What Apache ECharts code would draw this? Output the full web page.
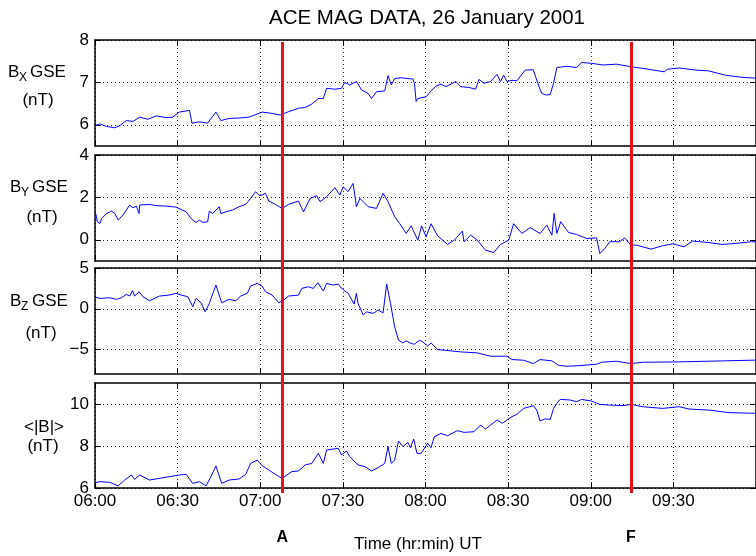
<!DOCTYPE html>
<html>
<head>
<meta charset="utf-8">
<script src="https://cdn.jsdelivr.net/npm/echarts@6/dist/echarts.min.js"></script>
<style>
  html, body { margin: 0; padding: 0; background: #fff; }
  #chart { width: 756px; height: 556px; }
</style>
</head>
<body>
<div id="chart"></div>
<script>
// Samples are [minutes after 06:00 UT, field value in nT]
const bxSamples = [[0,5.98],[1.8,6.02],[4.2,5.96],[7.2,5.93],[9,5.98],[11.4,6.10],[13.8,6.08],[16.2,6.18],[19.2,6.13],[22.2,6.21],[25.8,6.17],[28.2,6.18],[30.6,6.30],[34.3,6.34],[35.2,6.04],[37.9,6.07],[40.9,6.04],[42.7,6.20],[43.9,6.30],[45.7,6.10],[48.7,6.15],[52.3,6.16],[55.9,6.18],[59.5,6.27],[60.7,6.30],[64.3,6.27],[67.3,6.23],[70.3,6.31],[73.9,6.39],[76.3,6.41],[78.7,6.49],[81.1,6.62],[82.9,6.62],[84.1,6.86],[87.1,6.84],[89.5,6.86],[90.7,7.00],[92.5,6.94],[95,7.02],[96.8,6.82],[99.2,6.74],[100.4,6.62],[102.2,6.78],[105.2,6.80],[106.4,7.16],[107.6,6.94],[108.8,7.09],[111.2,7.11],[113.6,7.09],[115.4,7.08],[116,6.98],[116.6,6.55],[117.2,6.62],[120.2,6.66],[122,6.80],[123.8,6.91],[125.6,6.96],[127.4,6.90],[131,7.02],[132.8,6.90],[135.8,6.88],[138.2,6.84],[139.4,7.07],[141.2,6.98],[143.6,7.02],[146,7.19],[147.2,7.02],[148.4,7.17],[149.6,7.02],[151.4,7.05],[153.2,7.04],[156.2,7.29],[159.1,7.30],[161,6.94],[162.2,6.74],[164,6.70],[165.3,6.72],[166.5,6.98],[167.7,7.35],[171.3,7.38],[174.9,7.35],[176.7,7.47],[180.3,7.45],[184.5,7.41],[189.3,7.43],[194.6,7.37],[198.9,7.33],[206.7,7.25],[207.9,7.31],[212.1,7.34],[218.1,7.29],[222.9,7.27],[228.9,7.17],[234.9,7.12],[240,7.10]];

const bySamples = [[0,1.3],[0.4,1.17],[0.8,0.85],[1.8,0.77],[2.4,1.0],[4.2,1.24],[6.0,1.35],[7.2,1.24],[8.4,0.93],[10.2,1.17],[12.6,1.64],[13.8,1.51],[15.0,1.59],[16.0,1.24],[16.2,1.64],[19.8,1.67],[22.2,1.61],[25.8,1.59],[29.4,1.54],[31.3,1.43],[33.1,1.32],[34.9,1.0],[36.7,0.82],[37.9,0.93],[39.1,0.82],[40.9,0.85],[41.5,1.35],[42.7,1.24],[45.1,1.56],[45.7,1.24],[47.5,1.32],[49.9,1.40],[52.3,1.56],[54.7,1.67],[56.5,1.95],[58.3,2.27],[59.5,2.11],[60.7,2.11],[61.9,2.19],[63.1,1.83],[65.5,1.67],[67.9,1.48],[70.3,1.67],[73.9,1.83],[75.1,1.48],[75.7,1.32],[78.1,1.95],[80.5,2.08],[81.7,1.80],[84.1,2.03],[87.1,2.46],[88.9,2.11],[90.1,2.50],[91.9,2.27],[93.7,2.66],[94.6,1.87],[94.9,1.56],[96.2,1.95],[99.2,1.56],[102.2,1.48],[104.6,2.19],[106.4,1.80],[108.8,1.09],[110.6,0.77],[113.0,0.30],[114.8,0.66],[117.2,-0.02],[118.6,0.66],[120.2,0.14],[122.0,0.76],[124.4,0.19],[128.0,-0.22],[130.4,-0.02],[133.4,0.41],[134.0,-0.09],[136.4,0.22],[138.8,-0.02],[141.8,-0.49],[144.8,-0.60],[147.2,-0.22],[150.2,-0.02],[152.0,0.76],[155.0,0.30],[158.0,0.57],[161.6,0.30],[164.0,0.69],[165.9,0.22],[166.7,1.24],[167.7,0.30],[169.1,0.85],[171.9,0.35],[174.9,0.25],[178.5,0.06],[182.1,0.09],[183.3,-0.65],[185.1,-0.41],[186.9,-0.09],[190.5,-0.09],[192.3,0.09],[194.6,-0.25],[196.5,-0.25],[201.9,-0.44],[206.1,-0.28],[209.7,-0.19],[213.9,-0.33],[217.0,-0.06],[222.9,-0.13],[227.7,-0.22],[232.6,-0.17],[238.3,-0.09],[240,-0.1]];

const bzSamples = [[0,1.45],[0.4,1.48],[1.8,1.27],[5.4,1.35],[7.8,1.15],[9.6,1.35],[11.4,1.76],[12.6,1.56],[13.6,2.21],[14.4,1.56],[16.0,2.09],[17.4,1.48],[19.8,0.98],[23.4,1.56],[27.0,1.68],[29.4,1.89],[31.3,1.68],[33.7,1.48],[35.5,0.25],[36.7,1.27],[38.5,0.74],[40.0,-0.37],[41.5,0.66],[43.9,2.91],[46.0,0.74],[48.7,1.15],[51.1,0.98],[52.9,1.56],[55.3,1.89],[56.5,2.79],[58.9,3.11],[60.7,2.79],[61.9,2.09],[64.3,1.68],[66.7,0.74],[68.5,1.07],[70.3,1.56],[73.9,1.68],[75.1,2.50],[77.5,2.70],[79.3,2.50],[80.9,3.20],[82.9,2.17],[84.1,3.11],[86.5,2.91],[88.3,3.03],[89.5,2.50],[91.9,1.89],[94.1,0.57],[94.9,1.89],[95.5,0.66],[97.4,-0.78],[98.6,-0.37],[101.0,-0.57],[102.8,-0.16],[104.6,-0.49],[105.2,-0.37],[105.9,3.03],[107.3,0.66],[108.8,-2.21],[110.2,-3.85],[111.8,-4.18],[113.0,-3.93],[114.8,-4.26],[116.0,-4.34],[117.8,-3.85],[119.0,-4.06],[120.8,-4.59],[122.0,-4.18],[124.4,-5.0],[126.8,-5.08],[132.8,-5.29],[138.8,-5.41],[143.6,-5.82],[149.6,-5.82],[151.4,-6.23],[155.6,-6.31],[159.2,-6.72],[161.6,-6.23],[165.9,-6.39],[168.3,-6.93],[171.3,-7.05],[176.1,-6.97],[182.1,-6.80],[183.9,-6.56],[189.3,-6.43],[194.6,-6.72],[198.9,-6.56],[211.0,-6.52],[222.9,-6.43],[238.3,-6.31],[240,-6.3]];

const bmagSamples = [[0,6.25],[0.4,6.22],[1.8,6.30],[5.4,6.27],[8.4,6.10],[10.8,6.38],[13.2,6.62],[14.4,6.41],[16.2,6.62],[19.8,6.38],[23.4,6.46],[27.0,6.54],[30.6,6.62],[33.1,6.65],[35.5,6.22],[37.9,6.30],[40.3,6.10],[42.1,6.54],[43.9,7.05],[46.0,6.22],[48.7,6.38],[52.3,6.43],[54.7,6.65],[56.5,7.17],[58.9,7.33],[60.7,7.06],[63.1,6.86],[65.5,6.65],[67.9,6.46],[71.5,6.78],[73.9,6.81],[76.3,7.10],[78.7,7.17],[81.1,7.65],[82.9,7.17],[84.1,7.81],[88.3,7.89],[89.5,7.57],[91.3,7.76],[92.5,7.49],[95.5,7.10],[98.0,7.02],[100.4,6.81],[102.8,6.97],[105.2,7.17],[106.4,7.97],[107.6,7.17],[108.8,7.33],[110.2,8.24],[111.8,7.97],[113.6,8.17],[114.5,7.92],[115.7,8.33],[116.9,7.65],[118.4,7.65],[120.8,8.13],[122.0,7.92],[123.2,8.44],[125.6,8.60],[128.0,8.49],[131.6,8.73],[134.0,8.65],[137.6,8.68],[140.0,9.0],[141.8,8.81],[146.0,9.24],[147.8,9.08],[149.6,9.24],[151.4,9.40],[153.2,9.51],[155.6,9.79],[159.2,9.92],[160.4,9.71],[161.6,9.19],[163.4,9.29],[165.3,9.27],[166.5,9.79],[167.7,10.03],[168.9,10.22],[172.5,10.19],[174.9,10.11],[176.7,10.22],[180.3,10.14],[183.3,9.98],[186.9,9.95],[191.7,9.92],[194.6,9.98],[198.9,9.87],[206.1,9.79],[212.1,9.87],[215.7,9.76],[222.9,9.71],[230.2,9.59],[238.3,9.56],[240,9.56]];

// Time axis ticks (every 30 minutes from 06:00)
const timeTickLabels = ['06:00', '06:30', '07:00', '07:30', '08:00', '08:30', '09:00', '09:30', '10:00'];

// Y-axis ticks per panel
const bxTicks = [6, 7, 8];
const byTicks = [0, 2, 4];
const bzTicks = [-5, 0, 5];
const bmagTicks = [6, 8, 10];

// Marked event times (minutes after 06:00) and their names
const eventTimes = [68, 194.6];
const eventNames = ['A', 'F'];

const FONT = '"Liberation Sans", Arial, Helvetica, sans-serif';

const panels = [
  { samples: bxSamples,   min: 5.5, max: 8,  ticks: bxTicks },
  { samples: bySamples,   min: -1,  max: 4,  ticks: byTicks },
  { samples: bzSamples,   min: -8,  max: 5,  ticks: bzTicks },
  { samples: bmagSamples, min: 6,   max: 11, ticks: bmagTicks }
];
const panelBoxes = [
  { top: 40,  height: 106 },
  { top: 155, height: 106 },
  { top: 268, height: 106 },
  { top: 383, height: 105 }
];
const PLOT_LEFT = 95;
const PLOT_WIDTH = 665;

const boxLine = { color: '#000', width: 1.5 };
const tickLine = { color: '#000', width: 1 };
const dotted = { color: '#000', width: 1, type: [1, 3], opacity: 0.85 };

const grid = [], xAxis = [], yAxis = [], series = [];

panels.forEach((p, i) => {
  const last = i === panels.length - 1;
  grid.push({ left: PLOT_LEFT, width: PLOT_WIDTH, top: panelBoxes[i].top, height: panelBoxes[i].height });

  xAxis.push({
    gridIndex: i, type: 'value', min: 0, max: 240, interval: 30, position: 'bottom',
    axisLine: { show: true, onZero: false, lineStyle: boxLine },
    axisTick: { show: true, inside: true, length: 6, lineStyle: tickLine },
    axisLabel: {
      show: last, margin: 5, color: '#000', fontSize: 17, fontFamily: FONT,
      showMaxLabel: false,
      formatter: v => timeTickLabels[Math.round(v / 30)]
    },
    splitLine: { show: true, lineStyle: dotted }
  });
  xAxis.push({
    gridIndex: i, type: 'value', min: 0, max: 240, interval: 30, position: 'top',
    axisLine: { show: true, onZero: false, lineStyle: boxLine },
    axisTick: { show: true, inside: true, length: 6, lineStyle: tickLine },
    axisLabel: { show: false },
    splitLine: { show: false }
  });

  yAxis.push({
    gridIndex: i, type: 'value', min: p.min, max: p.max, position: 'left',
    axisLine: { show: true, onZero: false, lineStyle: boxLine },
    axisTick: { show: true, inside: true, length: 6, lineStyle: tickLine, customValues: p.ticks },
    axisLabel: {
      show: true, margin: 6, color: '#000', fontSize: 17, fontFamily: FONT,
      customValues: p.ticks,
      formatter: v => String(v).replace('-', '\u2212')
    },
    splitLine: { show: true, lineStyle: dotted }
  });
  yAxis.push({
    gridIndex: i, type: 'value', min: p.min, max: p.max, position: 'right',
    axisLine: { show: true, onZero: false, lineStyle: boxLine },
    axisTick: { show: true, inside: true, length: 6, lineStyle: tickLine, customValues: p.ticks },
    axisLabel: { show: false },
    splitLine: { show: false }
  });

  series.push({
    type: 'line', xAxisIndex: 2 * i, yAxisIndex: 2 * i,
    data: p.samples, showSymbol: false, symbol: 'none',
    lineStyle: { color: '#0000ff', width: 1 },
    z: 3, animation: false, silent: true
  });
});

// Full-height overlay used for the event markers
const overlay = panels.length;
grid.push({ left: PLOT_LEFT, width: PLOT_WIDTH, top: 42, height: 451 });
xAxis.push({ gridIndex: overlay, type: 'value', min: 0, max: 240, show: false });
yAxis.push({ gridIndex: overlay, type: 'value', min: 0, max: 1, show: false });
series.push({
  type: 'line', xAxisIndex: 2 * overlay, yAxisIndex: 2 * overlay, data: [],
  z: 10, animation: false, silent: true,
  markLine: {
    silent: true, animation: false, symbol: ['none', 'none'],
    lineStyle: { color: '#e8101a', width: 3, type: 'solid' },
    label: {
      show: true, position: 'start', distance: 37, formatter: '{b}',
      color: '#000', fontWeight: 'bold', fontSize: 16, fontFamily: FONT
    },
    emphasis: { disabled: true },
    data: eventTimes.map((t, k) => ({ xAxis: t, name: eventNames[k] }))
  }
});

// Panel labels with subscripted components
function componentLabel(letter, sub, x, y, unitX, unitY) {
  return [
    { type: 'text', left: x, top: y - 10, style: { text: letter, font: '17px ' + FONT, fill: '#000' } },
    { type: 'text', left: x + 11, top: y - 2, style: { text: sub, font: '12px ' + FONT, fill: '#000' } },
    { type: 'text', left: x + 22, top: y - 10, style: { text: 'GSE', font: '17px ' + FONT, fill: '#000' } },
    { type: 'text', x: unitX, y: unitY, style: { text: '(nT)', font: '17px ' + FONT, fill: '#000', align: 'center', verticalAlign: 'middle' } }
  ];
}

const graphic = [
  { type: 'text', x: 427, y: 18, style: { text: 'ACE MAG DATA, 26 January 2001', font: '20.5px ' + FONT, fill: '#000', align: 'center', verticalAlign: 'middle' } },
  ...componentLabel('B', 'X', 8, 74, 38, 100),
  ...componentLabel('B', 'Y', 10, 189, 42, 217),
  ...componentLabel('B', 'Z', 10, 303, 41, 333),
  { type: 'text', x: 44, y: 427, style: { text: '<|B|>', font: '17px ' + FONT, fill: '#000', align: 'center', verticalAlign: 'middle' } },
  { type: 'text', x: 43, y: 446, style: { text: '(nT)', font: '17px ' + FONT, fill: '#000', align: 'center', verticalAlign: 'middle' } },
  { type: 'text', x: 418, y: 544, style: { text: 'Time (hr:min) UT', font: '17px ' + FONT, fill: '#000', align: 'center', verticalAlign: 'middle' } }
];

const chart = echarts.init(document.getElementById('chart'), null, { renderer: 'canvas' });
chart.setOption({
  animation: false,
  backgroundColor: '#fff',
  textStyle: { fontFamily: FONT },
  grid, xAxis, yAxis, series, graphic
});
</script>
</body>
</html>
